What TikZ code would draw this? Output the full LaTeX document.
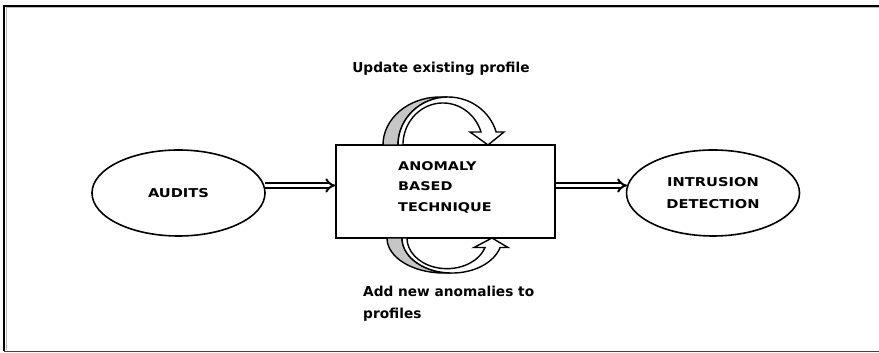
\documentclass[tikz,border=0pt]{standalone}
\usepackage{fontspec}
\setmainfont{DejaVu Sans}
\newfontfamily\wideface{DejaVu Sans}[FakeStretch=1.2]
\usetikzlibrary{shapes.geometric,arrows.meta}

\tikzset{
  oval/.style={ellipse, draw, line width=1.6pt, minimum width=173pt, minimum height=86pt,
    inner sep=0pt, align=center, font=\wideface\bfseries\fontsize{12.2}{22}\selectfont},
  procbox/.style={rectangle, draw, line width=1.6pt, minimum width=219pt, minimum height=93pt, inner sep=0pt},
  boxtext/.style={inner sep=0pt, align=left, font=\wideface\bfseries\fontsize{12}{20.5}\selectfont},
  lbl/.style={inner sep=0pt, align=left, font=\bfseries\fontsize{13.7}{21.6}\selectfont},
  dbl/.style={line width=2pt, double distance=2.6pt, -{Implies[scale=1.25]}},
  bendarrow/.pic={
    % back side of the ribbon, seen on the left
    \draw[line width=1.4pt, fill=gray!45]
      (-57,0) arc[start angle=180, end angle=90, x radius=57, y radius=48]
      -- (8,48) arc[start angle=90, end angle=180, x radius=50, y radius=48] -- cycle;
    % front side of the ribbon with its head
    \draw[line width=1.4pt, fill=white, line join=miter]
      (-42,0) arc[start angle=180, end angle=15.66, x radius=50, y radius=48]
      -- (64,13) -- (48,0) -- (30,13) -- (41,13)
      arc[start angle=18, end angle=180, x radius=40, y radius=42] -- cycle;
  }
}

\begin{document}
\begin{tikzpicture}[x=1pt, y=1pt]
  \useasboundingbox (0,0) rectangle (879,353);

  % page frame
  \draw[gray!55, line width=0.8pt] (6.8,3) -- (6.8,345.2) -- (882,345.2);
  \draw[line width=2.2pt] (4,2) -- (4,347) -- (882,347);
  \draw[black!75, line width=1.2pt] (4,1.5) -- (882,1.5);

  % main blocks
  \node[oval] (audits) at (178.5,160) {AUDITS};
  \node[procbox] (abt) at (445.5,161.5) {};
  \node[boxtext, anchor=west] (abttext) at (398,166) {ANOMALY\\BASED\\TECHNIQUE};
  \node[oval] (intr) at (713,160) {INTRUSION\\DETECTION};

  % flows
  \draw[dbl] (audits.5) -- (audits.5 -| abt.west);
  \draw[dbl] (intr.175 -| abt.east) -- (intr.175);

  % feedback loops on the technique block
  \pic at (440,208) {bendarrow};
  \pic[yscale=-0.73] at (444,115) {bendarrow};

  % loop labels
  \node[lbl, anchor=base] (upd) at (441,280) {Update existing profile};
  \node[lbl, anchor=north west] (addnew) at (363,66.7) {Add new anomalies to\\profiles};
\end{tikzpicture}
\end{document}
